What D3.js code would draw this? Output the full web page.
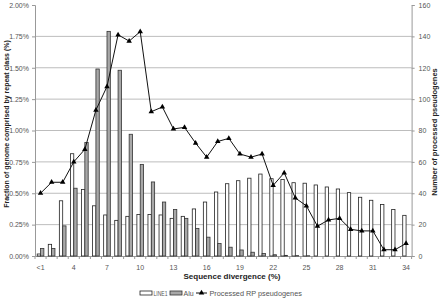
<!DOCTYPE html>
<html>
<head>
<meta charset="utf-8">
<script src="https://cdn.jsdelivr.net/npm/d3@7"></script>
<style>
  body { margin: 0; background: #fff; overflow: hidden; }
  svg { display: block; }
  text { font-family: "Liberation Sans", Arial, sans-serif; }
</style>
</head>
<body>
<svg id="plot" width="440" height="298"></svg>
<script>
//categories along the x axis
let divergence = ["<1","2","3","4","5","6","7","8","9","10","11","12","13","14","15","16","17",
  "18","19","20","21","22","23","24","25","26","27","28","29","30","31","32","33","34"];
//fraction of genome (%) for each repeat class
let line1 = [0.016,0.093,0.44,0.815,0.53,0.40,0.327,0.284,0.316,0.33,0.33,0.327,0.30,0.316,0.375,0.43,0.51,
  0.576,0.60,0.62,0.653,0.616,0.61,0.584,0.58,0.566,0.55,0.534,0.505,0.468,0.444,0.41,0.37,0.324];
let alu = [0.06,0.06,0.24,0.54,0.905,1.49,1.79,1.48,0.97,0.73,0.59,0.43,0.37,0.30,0.22,0.15,0.10,
  0.07,0.048,0.03,0.02,0.01,0.005,0.003,0.002,0,0,0,0,0,0,0,0,0];
//number of processed RP pseudogenes
let pseudogenes = [40,47,47,60,68,93,108,141,137,143,92,95,81,82,72,63,73,
  75,65,63,65,45,53,37,32,19,23,24,17,16,16,4,4,8];
let left_ticks = [0,0.25,0.5,0.75,1,1.25,1.5,1.75,2];
let right_ticks = [0,20,40,60,80,100,120,140,160];

let svg = d3.select("#plot");
let margin_left = 35, margin_right = 28.4, margin_top = 5, margin_bottom = 42;
let plot_width = 440 - margin_left - margin_right;
let plot_bottom = 298 - margin_bottom;

let x_scale = d3.scaleBand(divergence, [margin_left, margin_left + plot_width]);
let x_inner = d3.scaleBand(["LINE1","Alu"], [2.2, x_scale.bandwidth() - 2.2]);
let y_left = d3.scaleLinear([0, 2], [plot_bottom, margin_top]);
let y_right = d3.scaleLinear([0, 160], [plot_bottom, margin_top]);

let grey = "#555";

//gridlines
svg.append("g").selectAll("line")
  .data(left_ticks.filter(d => d > 0 && d < 2))
  .join("line")
  .attr("x1", margin_left).attr("x2", margin_left + plot_width)
  .attr("y1", d => y_left(d)).attr("y2", d => y_left(d))
  .attr("stroke", "#bdbdbd").attr("stroke-width", 1);

//left axis
let left_ax = svg.append("g")
  .attr("transform", `translate(${margin_left},0)`)
  .call(d3.axisLeft(y_left).tickValues(left_ticks).tickSize(3).tickPadding(3)
    .tickFormat(d => d3.format(".2f")(d) + "%"));
//right axis
let right_ax = svg.append("g")
  .attr("transform", `translate(${margin_left + plot_width},0)`)
  .call(d3.axisRight(y_right).tickValues(right_ticks).tickSize(3).tickPadding(4));
//bottom axis, ticks between categories
let x_ax = svg.append("g")
  .attr("transform", `translate(0,${plot_bottom})`)
  .call(d3.axisBottom(x_scale).tickSize(0).tickPadding(9)
    .tickFormat((d, i) => i % 3 == 0 ? d : ""));
x_ax.selectAll(".sep")
  .data(d3.range(divergence.length + 1))
  .join("line")
  .attr("class", "sep")
  .attr("x1", i => margin_left + i * x_scale.step())
  .attr("x2", i => margin_left + i * x_scale.step())
  .attr("y1", 0).attr("y2", 3)
  .attr("stroke", "#999");

for (let ax of [left_ax, right_ax, x_ax]) {
  ax.selectAll(".domain").attr("stroke", "#999");
  ax.selectAll(".tick line").attr("stroke", "#999");
  ax.selectAll(".tick text").attr("font-size", 7).attr("fill", grey)
    .attr("font-family", "Liberation Sans, Arial, sans-serif");
}

//bars
let groups = svg.append("g").selectAll("g")
  .data(divergence)
  .join("g")
  .attr("transform", d => `translate(${x_scale(d)},0)`);
groups.append("rect")
  .attr("x", x_inner("LINE1"))
  .attr("width", x_inner.bandwidth())
  .attr("y", (d, i) => y_left(line1[i]))
  .attr("height", (d, i) => plot_bottom - y_left(line1[i]))
  .attr("fill", "#fff").attr("stroke", "#222").attr("stroke-width", 0.8);
groups.append("rect")
  .attr("x", x_inner("Alu"))
  .attr("width", x_inner.bandwidth())
  .attr("y", (d, i) => y_left(alu[i]))
  .attr("height", (d, i) => plot_bottom - y_left(alu[i]))
  .attr("fill", "#a8a8a8").attr("stroke", "#333").attr("stroke-width", 0.8);

//processed pseudogene line
let cx = (d, i) => x_scale(divergence[i]) + x_scale.bandwidth() / 2;
let line = d3.line().x(cx).y(d => y_right(d));
svg.append("path")
  .attr("d", line(pseudogenes))
  .attr("fill", "none").attr("stroke", "#111").attr("stroke-width", 1);
let tri = d3.symbol(d3.symbolTriangle, 13);
svg.append("g").selectAll("path")
  .data(pseudogenes)
  .join("path")
  .attr("d", tri)
  .attr("transform", (d, i) => `translate(${cx(d, i)},${y_right(d)})`)
  .attr("fill", "#000");

//axis titles
svg.append("text")
  .attr("text-anchor", "middle")
  .attr("x", 232)
  .attr("y", plot_bottom + 23)
  .attr("font-size", 8).attr("font-weight", "bold").attr("fill", "#222")
  .text("Sequence divergence (%)");
svg.append("text")
  .attr("text-anchor", "middle")
  .attr("transform", `translate(9,124) rotate(-90)`)
  .attr("font-size", 7).attr("font-weight", "bold").attr("fill", "#222")
  .text("Fraction of genome comprised by repeat class (%)");
svg.append("text")
  .attr("text-anchor", "middle")
  .attr("transform", `translate(437,132) rotate(-90)`)
  .attr("font-size", 7.5).attr("font-weight", "bold").attr("fill", "#222")
  .text("Number of processed pseudogenes");

//legend
let leg = svg.append("g").attr("transform", "translate(0,293)");
leg.append("rect").attr("x", 140).attr("y", -2).attr("width", 12).attr("height", 4)
  .attr("fill", "#fff").attr("stroke", "#222").attr("stroke-width", 0.8);
leg.append("text").attr("x", 153.5).attr("y", 2.5).attr("font-size", 7).attr("fill", grey)
  .attr("textLength", 14).attr("lengthAdjust", "spacingAndGlyphs").text("LINE1");
leg.append("rect").attr("x", 170).attr("y", -2).attr("width", 12).attr("height", 4)
  .attr("fill", "#a8a8a8").attr("stroke", "#333").attr("stroke-width", 0.8);
leg.append("text").attr("x", 183.5).attr("y", 2.5).attr("font-size", 7).attr("fill", grey).text("Alu");
leg.append("line").attr("x1", 196).attr("x2", 207).attr("y1", 0).attr("y2", 0)
  .attr("stroke", "#111");
leg.append("path").attr("d", tri).attr("transform", "translate(201.5,0)").attr("fill", "#000");
leg.append("text").attr("x", 209.5).attr("y", 2.5).attr("font-size", 7.3).attr("fill", grey)
  .text("Processed RP pseudogenes");
</script>
</body>
</html>
